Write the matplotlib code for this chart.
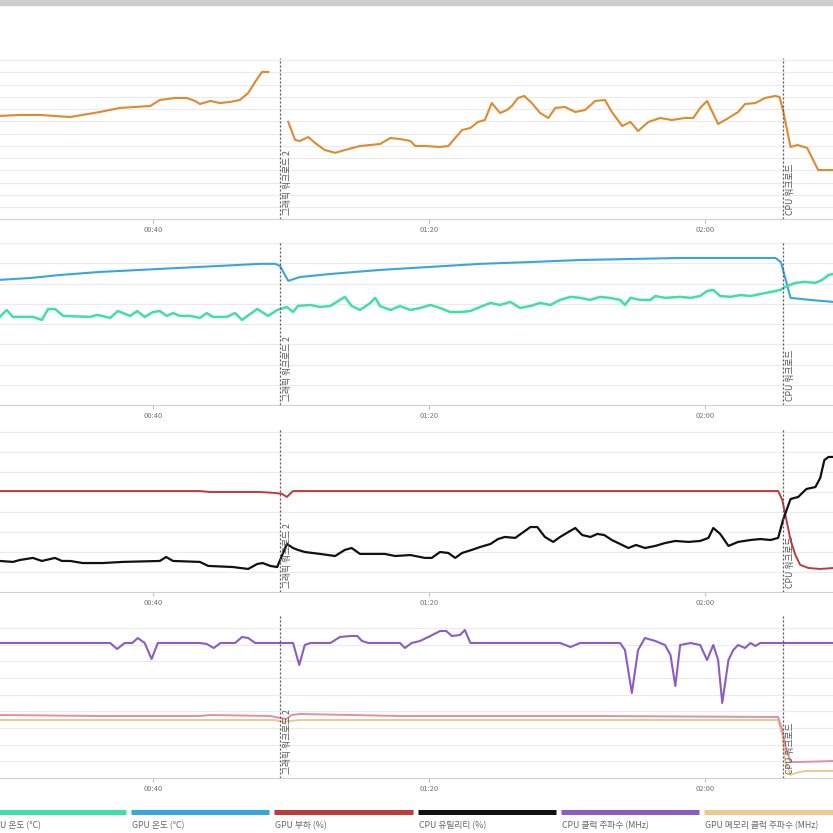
import numpy as np
import matplotlib
matplotlib.use("Agg")
import matplotlib.pyplot as plt
from matplotlib.patches import Rectangle
import matplotlib.transforms as mtransforms

plt.rcParams['font.family'] = ['Noto Sans CJK KR', 'DejaVu Sans']

# ---------------- data (time in seconds) ----------------
tick_secs = [40, 80, 120]
tick_labels = ['00:40', '01:20', '02:00']
x_range = [17.83, 138.55]

events_t = [58.4, 131.3]
events_lbl = ['그래픽 워크로드 2', 'CPU 워크로드']

# panel 1 (orange)
p1_t = [17.8, 20.7, 23.6, 28.0, 32.3, 35.2, 39.6, 41.0, 43.2, 44.9, 46.1, 46.8, 48.3, 49.7, 51.2, 52.6,
        53.8, 54.8, 55.8, 56.7, 58.1,
        59.6, 60.6, 61.3, 62.5, 63.5, 64.9, 66.4, 67.8, 70.0, 72.9, 74.4, 75.8, 77.3, 78.0, 79.4, 81.6,
        82.8, 83.8, 84.8, 86.0, 87.1, 88.1, 89.1, 90.3, 91.3, 92.0, 92.9, 93.8, 94.9, 96.1, 97.3, 98.3,
        99.7, 101.2, 102.6, 104.1, 105.5, 106.5, 108.0, 109.2, 110.3, 111.8, 113.5, 115.2, 117.1, 118.3,
        119.3, 120.3, 121.0, 121.9, 123.4, 124.8, 125.8, 127.3, 128.7, 130.2, 130.8, 131.3, 132.4, 133.4,
        134.8, 136.4, 138.6]
p1_v = [84.4, 85.2, 85.2, 83.5, 87.6, 90.9, 92.5, 97.4, 99.0, 99.0, 96.6, 94.1, 96.6, 94.9, 95.8, 97.4,
        103.1, 112.1, 120.2, 120.2, np.nan,
        79.5, 64.8, 64.0, 67.2, 62.3, 56.6, 54.3, 56.6, 59.9, 61.5, 66.4, 65.6, 64.0, 59.9, 59.9, 59.1,
        59.9, 66.4, 72.9, 74.6, 79.5, 81.1, 94.9, 86.8, 89.2, 92.5, 99.0, 100.7, 94.9, 86.8, 82.7, 90.9,
        91.7, 87.6, 89.2, 96.6, 97.4, 87.6, 76.2, 79.5, 72.1, 79.5, 82.7, 81.1, 82.7, 82.7,
        90.9, 96.6, 88.4, 77.8, 82.7, 87.6, 94.1, 94.9, 99.0, 100.7, 99.8, 89.2, 59.1, 60.7,
        58.3, 40.3, 40.3]

# panel 2: GPU temp (blue), CPU temp (green)
gpu_temp_t = [17.8, 22.2, 26.5, 32.3, 38.1, 43.9, 49.7, 55.5, 57.7, 58.4, 59.6, 61.3, 65.7, 72.9, 80.2,
              87.4, 94.7, 101.9, 109.2, 116.4, 125.1, 130.2, 131.0, 132.4, 135.2, 138.6]
gpu_temp_v = [61.8, 62.7, 64.2, 65.7, 66.7, 67.7, 68.7, 69.7, 69.7, 68.7, 61.3, 63.2, 64.7, 66.7, 68.2,
              69.7, 70.6, 71.6, 72.1, 72.6, 72.6, 72.6, 70.6, 52.9, 51.9, 50.9]
cpu_temp_t = [17.8, 18.8, 19.7, 22.6, 23.9, 24.8, 25.8, 27.0, 30.9, 31.9, 33.8, 34.9, 36.7, 37.7, 38.8,
              40.0, 41.0, 42.0, 42.9, 43.9, 45.4, 46.8, 47.8, 48.7, 50.7, 51.9, 52.9, 55.1, 56.7, 58.0,
              59.4, 60.3, 61.0, 62.8, 64.2, 65.7, 67.1, 67.8, 68.8, 70.0, 71.5, 72.2, 72.9, 74.4, 75.8,
              77.3, 78.7, 80.2, 81.6, 83.1, 84.5, 86.0, 87.4, 88.9, 90.3, 91.8, 93.2, 94.7, 96.1, 97.6,
              99.0, 100.5, 101.9, 103.4, 104.8, 106.2, 107.7, 108.4, 109.2, 110.6, 112.1, 112.8, 114.2,
              116.4, 117.9, 119.3, 120.3, 121.2, 122.2, 123.7, 125.1, 126.6, 128.0, 129.5, 130.9, 131.6,
              133.1, 134.5, 136.0, 137.0, 137.9, 138.6]
cpu_temp_v = [43.5, 46.9, 43.5, 43.5, 42.0, 47.4, 47.4, 44.0, 43.5, 44.5, 43.0, 46.4, 44.0, 46.4, 43.5,
              45.9, 46.4, 44.0, 45.4, 44.0, 44.0, 43.0, 45.4, 43.5, 43.5, 45.4, 42.0, 47.4, 44.0, 46.9,
              48.4, 45.9, 48.9, 49.4, 48.4, 48.9, 51.9, 53.4, 48.9, 46.9, 50.4, 52.9, 48.9, 46.9, 48.9,
              46.9, 47.9, 49.4, 47.9, 45.9, 45.9, 46.4, 48.4, 50.4, 49.4, 50.9, 47.9, 48.9, 50.4, 49.4,
              51.9, 53.4, 52.9, 51.9, 53.4, 52.9, 51.9, 49.4, 52.9, 51.9, 51.9, 53.8, 52.9,
              53.4, 52.9, 53.8, 56.3, 56.8, 53.8, 53.4, 54.3, 53.8, 54.8, 55.8, 56.8, 58.3,
              60.3, 60.8, 60.3, 61.8, 64.2, 64.7]

# panel 3: GPU load (red), CPU utility (black)
gpu_load_t = [17.8, 46.8, 48.3, 55.5, 57.7, 58.7, 59.4, 60.3, 130.6, 131.2, 131.8, 132.4, 133.1, 133.8,
              135.0, 136.7, 138.6]
gpu_load_v = [63.1, 63.1, 62.5, 62.5, 61.9, 61.3, 59.4, 63.1, 63.1, 57.5, 45.0, 32.5, 23.1, 16.9,
              15.0, 14.4, 15.0]
cpu_util_t = [17.8, 19.7, 20.7, 22.6, 23.9, 25.8, 26.8, 28.0, 29.8, 32.7, 35.6, 41.0, 41.9, 42.9, 46.8,
              48.0, 51.6, 53.8, 55.1, 55.9, 57.0, 58.0, 59.4, 60.3, 61.0, 62.0, 64.2, 66.4, 67.8, 68.8,
              70.0, 71.7, 73.6, 75.1, 77.3, 79.4, 80.4, 81.6, 82.8, 83.8, 84.8, 86.2, 87.4, 88.9, 90.0,
              91.0, 92.5, 93.5, 94.7, 95.7, 96.8, 98.0, 99.0, 100.2, 101.2, 102.2, 103.4, 104.4, 105.4,
              106.5, 107.7, 108.9, 110.0, 111.3, 112.8, 114.2, 115.7, 117.6, 119.3, 120.5, 121.2, 122.2,
              123.4, 124.8, 126.6, 128.0, 129.5, 130.6, 131.3, 132.4, 133.5, 134.7, 136.0, 136.7, 137.3,
              137.9, 138.6]
cpu_util_v = [19.4, 18.8, 20.0, 21.3, 19.4, 21.3, 19.4, 19.4, 18.1, 18.1, 18.8, 19.4, 21.9, 19.4, 18.8,
              16.3, 15.6, 14.4, 17.5, 18.1, 16.3, 15.6, 30.0, 27.5, 26.3, 25.0, 23.8, 22.5, 26.3, 27.5,
              23.8, 23.8, 23.8, 22.5, 23.1, 21.3, 21.3, 25.0, 24.4, 21.3, 24.4, 26.3, 28.1, 30.0, 33.1,
              34.4, 33.8, 36.9, 40.6, 40.6, 34.4, 31.3, 34.4, 37.5, 40.0, 35.6, 34.4, 36.3, 35.6,
              32.5, 30.0, 27.5, 29.4, 27.5, 28.8, 30.6, 31.9, 31.3, 31.9, 33.8, 40.0, 36.3,
              28.8, 31.3, 32.5, 33.1, 32.5, 33.8, 45.0, 58.1, 59.4, 64.4, 65.6, 71.3, 82.5,
              84.4, 84.4]

# panel 4: CPU clock (purple), GPU clock (pink), GPU memory clock (tan)
cpu_clk_t = [17.8, 33.8, 34.8, 35.9, 37.0, 37.8, 38.8, 39.8, 40.7, 46.8, 47.8, 48.8, 49.8, 51.9, 52.9,
             53.8, 54.8, 60.3, 61.2, 62.0, 62.8, 65.7, 67.1, 68.6, 69.6, 70.3, 71.2, 75.8, 76.5, 77.5,
             78.7, 80.2, 81.6, 82.5, 83.3, 84.5, 85.2, 86.0, 99.0, 100.5, 101.9, 107.7, 108.4, 109.4,
             110.3, 111.3, 112.8, 114.2, 115.0, 115.7, 116.4, 117.9, 119.3, 120.3, 121.2, 121.9, 122.5,
             123.4, 124.1, 124.8, 125.8, 126.6, 127.3, 128.0, 138.6]
cpu_clk_v = [4050, 4050, 3870, 4050, 4050, 4200, 4050, 3570, 4050, 4050, 4020, 3900, 4050, 4050, 4230,
             4200, 4050, 4050, 3390, 3990, 4050, 4050, 4230, 4260, 4260, 4110, 4050, 4050, 3900, 4050,
             4110, 4260, 4410, 4410, 4260, 4290, 4440, 4050, 4050, 3930, 4050, 4050, 3840, 2550,
             3840, 4200, 4110, 3990, 3690, 2760, 3990, 4050, 3990, 3540, 3990, 3540, 2250,
             3540, 3840, 3990, 3900, 4050, 3960, 4050, 4050]
gpu_clk_t = [17.8, 32.3, 46.8, 48.3, 57.0, 58.4, 59.3, 60.1, 61.3, 75.8, 104.8, 130.6, 131.2, 131.8,
             132.4, 133.8, 138.6]
gpu_clk_v = [1890, 1860, 1860, 1890, 1860, 1800, 1770, 1890, 1920, 1860, 1860, 1830, 1440, 840,
             480, 480, 510]
gpu_mem_t = [17.8, 57.7, 58.7, 59.8, 61.3, 130.6, 131.2, 131.6, 132.4, 133.1, 134.5, 138.6]
gpu_mem_v = [1740, 1740, 1680, 1710, 1740, 1740, 1290, 540, 90, 150, 210, 210]

legend_labels = ['CPU 온도 (°C)', 'GPU 온도 (°C)', 'GPU 부하 (%)', 'CPU 유틸리티 (%)',
                 'CPU 클럭 주파수 (MHz)', 'GPU 메모리 클럭 주파수 (MHz)']

# ---------------- style ----------------
C_ORANGE = '#e0892f'
C_GREEN = '#3fe0a6'
C_BLUE = '#38a6dc'
C_RED = '#c03a3a'
C_BLACK = '#111111'
C_PURPLE = '#8c5cc2'
C_PINK = '#e48ea4'
C_TAN = '#ecc98c'
legend_colors = [C_GREEN, C_BLUE, C_RED, C_BLACK, C_PURPLE, C_TAN]

W = H = 833
fig = plt.figure(figsize=(W / 100, H / 100), dpi=100)
fig.patch.set_facecolor('white')


def fy(px):
    return 1 - px / H


panels = [  # top px, bottom px, ylim top, grid step
    (58, 219.5, 131.6, 10),
    (243, 405, 80, 10),
    (430, 592, 101.25, 12.5),
    (616, 778, 4860, 500),
]

axes = []
for top, bot, ytop, step in panels:
    ax = fig.add_axes([0, fy(bot), 1, (bot - top) / H])
    ax.set_xlim(*x_range)
    ax.set_ylim(0, ytop)
    ax.set_yticks(np.arange(step, ytop + 0.01, step))
    ax.yaxis.grid(True, color='#ebebeb', lw=0.8)
    ax.set_axisbelow(True)
    ax.tick_params(axis='y', left=False, labelleft=False)
    for s in ['left', 'right', 'top']:
        ax.spines[s].set_visible(False)
    ax.spines['bottom'].set_color('#d0d0d0')
    ax.spines['bottom'].set_linewidth(0.8)
    ax.set_xticks(tick_secs)
    ax.set_xticklabels(tick_labels)
    ax.tick_params(axis='x', length=3, width=0.6, color='#b0b0b0', labelsize=5.5,
                   labelcolor='#777777', pad=2)
    ax.set_facecolor('none')
    axes.append(ax)

axes[0].plot(p1_t, p1_v, color=C_ORANGE, lw=1.5)
axes[1].plot(gpu_temp_t, gpu_temp_v, color=C_BLUE, lw=1.5)
axes[1].plot(cpu_temp_t, cpu_temp_v, color=C_GREEN, lw=1.8)
axes[2].plot(gpu_load_t, gpu_load_v, color=C_RED, lw=1.4)
axes[2].plot(cpu_util_t, cpu_util_v, color=C_BLACK, lw=1.6)
axes[3].plot(gpu_mem_t, gpu_mem_v, color=C_TAN, lw=1.4)
axes[3].plot(gpu_clk_t, gpu_clk_v, color=C_PINK, lw=1.4)
axes[3].plot(cpu_clk_t, cpu_clk_v, color=C_PURPLE, lw=1.5)

for ax in axes:
    trans = mtransforms.blended_transform_factory(ax.transData, ax.transAxes)
    for t, lbl in zip(events_t, events_lbl):
        ax.plot([t, t], [0, 1], transform=trans, color='#555555', lw=0.9,
                ls=(0, (1.6, 1.6)), clip_on=False)
        ax.annotate(lbl, xy=(t, 0), xycoords=trans, xytext=(2.5, 3),
                    textcoords='offset points', rotation=90, ha='left', va='bottom',
                    fontsize=6.3, color='#555555')

# legend strip
lax = fig.add_axes([0, 0, 1, 1], facecolor='none')
lax.set_xlim(0, W)
lax.set_ylim(H, 0)
lax.axis('off')
pitch = 143.3
x0 = -12.3
for i, (lbl, col) in enumerate(zip(legend_labels, legend_colors)):
    xs = x0 + i * pitch
    lax.plot([xs, xs + 138.5], [812, 812], color=col, lw=3.6, solid_capstyle='butt')
    lax.text(xs + 1, 826, lbl, fontsize=6.3, color='#666666', ha='left', va='center')

# screenshot top strip
fig.patches.append(Rectangle((0, fy(5)), 1, 5 / H, transform=fig.transFigure,
                             color='#cdcdcd', zorder=-1))

fig.savefig('out.png', dpi=100)
